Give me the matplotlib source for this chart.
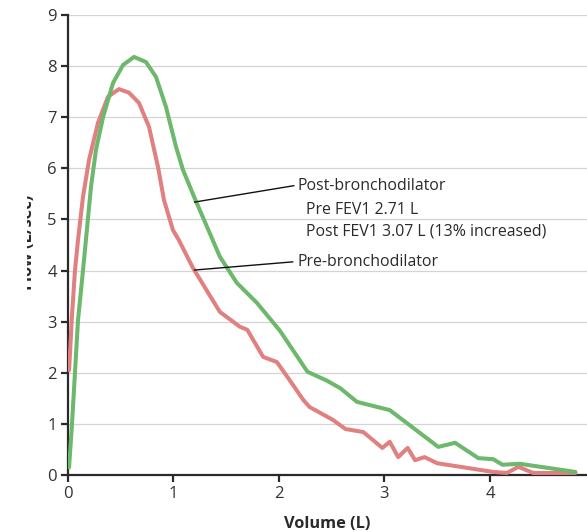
import matplotlib
matplotlib.use('Agg')
import matplotlib.pyplot as plt
import matplotlib.patches as mpatches

# flow-volume loop values (volume L, flow L/sec)
post_vol = [0.01, 0.038, 0.066, 0.095, 0.142, 0.17, 0.218, 0.265, 0.332, 0.427, 0.521,
            0.626, 0.739, 0.834, 0.929, 1.024, 1.09, 1.20, 1.44, 1.60, 1.79, 2.01,
            2.27, 2.45, 2.58, 2.74, 3.05, 3.51, 3.67, 3.89, 4.03, 4.12, 4.28, 4.81]
post_flow = [0.15, 1.0, 2.0, 3.03, 4.0, 4.6, 5.64, 6.36, 7.0, 7.67, 8.02,
             8.18, 8.08, 7.79, 7.2, 6.42, 5.97, 5.42, 4.27, 3.76, 3.37, 2.82,
             2.02, 1.85, 1.70, 1.43, 1.27, 0.55, 0.63, 0.33, 0.31, 0.20, 0.22, 0.06]

pre_vol = [0.01, 0.022, 0.035, 0.066, 0.095, 0.142, 0.199, 0.284, 0.379, 0.483, 0.578,
           0.673, 0.768, 0.853, 0.91, 0.995, 1.05, 1.185, 1.44, 1.63, 1.70, 1.85,
           1.98, 2.10, 2.23, 2.29, 2.51, 2.63, 2.80, 2.98, 3.05, 3.13, 3.22, 3.29,
           3.38, 3.50, 4.03, 4.16, 4.27, 4.41, 4.81]
pre_flow = [2.05, 2.5, 3.03, 4.0, 4.6, 5.44, 6.16, 6.89, 7.4, 7.55, 7.48,
            7.28, 6.81, 6.03, 5.38, 4.79, 4.6, 4.05, 3.19, 2.9, 2.84, 2.31,
            2.21, 1.86, 1.47, 1.33, 1.08, 0.90, 0.84, 0.53, 0.65, 0.35, 0.53, 0.29,
            0.35, 0.23, 0.06, 0.04, 0.16, 0.04, 0.04]

x_ticks = [0, 1, 2, 3, 4]
y_ticks = list(range(10))

GREEN = '#6cb86c'
RED = '#e08080'
INK = '#2a2a2a'

plt.rcParams['font.family'] = ['Open Sans', 'DejaVu Sans']

fig = plt.figure(figsize=(5.87, 5.32), dpi=100)
ax = fig.add_axes([68 / 587, 57 / 532, 1 - 68 / 587, 460 / 532])

ax.plot(pre_vol, pre_flow, color=RED, lw=2.9, solid_joinstyle='round',
        solid_capstyle='round', zorder=3)
ax.plot(post_vol, post_flow, color=GREEN, lw=2.9, solid_joinstyle='round',
        solid_capstyle='round', zorder=4)

ax.set_xlim(0, 4.92)
ax.set_ylim(0, 9)
ax.set_xticks(x_ticks)
ax.set_yticks(y_ticks)
ax.yaxis.grid(True, color='#d4d4d4', lw=0.9)
ax.set_axisbelow(True)
for s in ['top', 'right']:
    ax.spines[s].set_visible(False)
for s in ['left', 'bottom']:
    ax.spines[s].set_color(INK)
    ax.spines[s].set_linewidth(1.6)
ax.tick_params(direction='out', length=5, width=1.6, color=INK,
               labelsize=12, labelcolor='#333333', pad=3)

ax.set_xlabel('Volume (L)', fontsize=11.8, fontweight='bold', color=INK, labelpad=10)

# annotations
ax.plot([1.20, 2.14], [5.34, 5.66], color='#111111', lw=1.0, zorder=5)
ax.plot([1.20, 2.13], [4.01, 4.17], color='#111111', lw=1.0, zorder=5)
tkw = dict(fontsize=11.4, color=INK, va='center', ha='left')
ax.text(2.18, 5.66, 'Post-bronchodilator', **tkw)
ax.text(2.256, 5.19, 'Pre FEV1 2.71 L', **tkw)
ax.text(2.256, 4.76, 'Post FEV1 3.07 L (13% increased)', **tkw)
ax.text(2.18, 4.17, 'Pre-bronchodilator', **tkw)

# y label is cut off on the left in the original
fig.text(36 / 587, 0.545, 'Flow (L/sec)', rotation=90, fontsize=11.8,
         fontweight='bold', color=INK, ha='right', va='center')
fig.patches.append(mpatches.Rectangle((0, 0), 27 / 587, 1, transform=fig.transFigure,
                                      facecolor='white', edgecolor='none', zorder=10))

fig.savefig('out.png', dpi=100, facecolor='white')
